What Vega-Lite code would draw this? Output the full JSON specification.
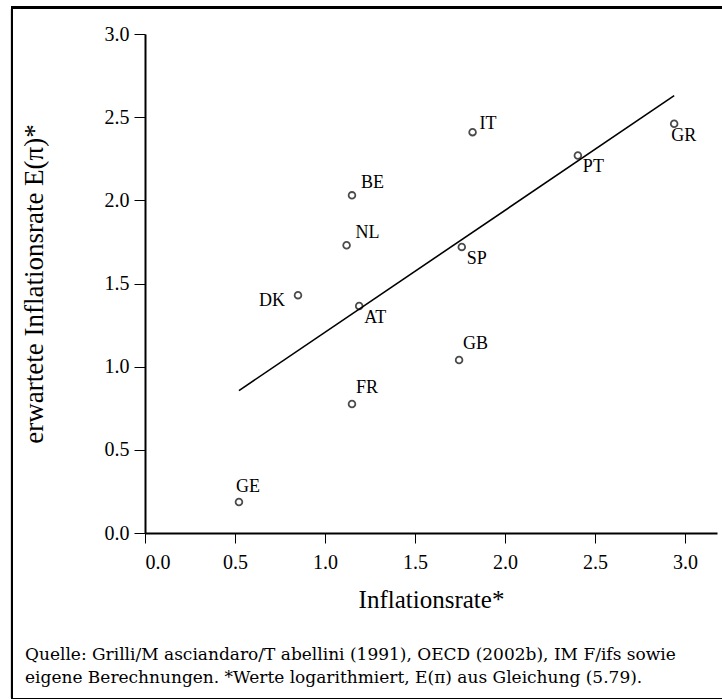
{
  "$schema": "https://vega.github.io/schema/vega-lite/v6.json",
  "autosize": {"type": "none"},
  "padding": {"left": 145, "top": 34, "right": 5, "bottom": 166},
  "width": 572,
  "height": 499,
  "background": "white",
  "config": {
    "view": {"stroke": null},
    "font": "Liberation Serif",
    "axis": {
      "grid": false,
      "domainColor": "black",
      "domainWidth": 2,
      "tickColor": "black",
      "tickWidth": 1,
      "labelColor": "black",
      "titleColor": "black",
      "labelFont": "Liberation Serif",
      "titleFont": "Liberation Serif",
      "titleFontWeight": "normal",
      "labelFontSize": 20,
      "titleFontSize": 25
    }
  },
  "title": {
    "text": [
      "Quelle: Grilli/M asciandaro/T abellini (1991), OECD (2002b), IM F/ifs sowie",
      "eigene Berechnungen. *Werte logarithmiert, E(π) aus Gleichung (5.79)."
    ],
    "orient": "bottom",
    "anchor": "start",
    "frame": "group",
    "dx": -120,
    "offset": -53,
    "font": "DejaVu Serif",
    "fontSize": 17,
    "fontWeight": "normal",
    "lineHeight": 23,
    "color": "black"
  },
  "data": {
    "values": [
      {"land": "GE", "inflation": 0.522, "erwartet": 0.186},
      {"land": "DK", "inflation": 0.85, "erwartet": 1.43},
      {"land": "AT", "inflation": 1.19, "erwartet": 1.365},
      {"land": "NL", "inflation": 1.12, "erwartet": 1.73},
      {"land": "BE", "inflation": 1.15, "erwartet": 2.03},
      {"land": "FR", "inflation": 1.15, "erwartet": 0.776},
      {"land": "IT", "inflation": 1.82, "erwartet": 2.41},
      {"land": "SP", "inflation": 1.76, "erwartet": 1.72},
      {"land": "GB", "inflation": 1.745, "erwartet": 1.04},
      {"land": "PT", "inflation": 2.405, "erwartet": 2.27},
      {"land": "GR", "inflation": 2.94, "erwartet": 2.46}
    ]
  },
  "encoding": {
    "x": {
      "field": "inflation",
      "type": "quantitative",
      "scale": {"domain": [0, 3.178], "nice": false, "zero": false},
      "axis": {
        "title": "Inflationsrate*",
        "values": [0, 0.5, 1, 1.5, 2, 2.5, 3],
        "format": ".1f",
        "tickSize": 10,
        "labelPadding": 9,
        "titlePadding": 15
      }
    },
    "y": {
      "field": "erwartet",
      "type": "quantitative",
      "scale": {"domain": [0, 3], "nice": false, "zero": false},
      "axis": {
        "title": "erwartete Inflationsrate  E(π)*",
        "titleFontSize": 27,
        "values": [0, 0.5, 1, 1.5, 2, 2.5, 3],
        "format": ".1f",
        "tickSize": 11,
        "labelPadding": 5,
        "titlePadding": 56
      }
    }
  },
  "layer": [
    {
      "mark": {"type": "rect", "fill": "white", "fillOpacity": 0, "stroke": "black", "strokeWidth": 2, "clip": false},
      "encoding": {
        "x": {"datum": -0.739},
        "x2": {"datum": 3.6},
        "y": {"datum": 3.159},
        "y2": {"datum": -1.0}
      }
    },
    {
      "transform": [{"regression": "erwartet", "on": "inflation"}],
      "mark": {"type": "line", "color": "black", "strokeWidth": 1.6}
    },
    {
      "mark": {"type": "point", "shape": "circle", "filled": false, "color": "black", "size": 45, "strokeWidth": 1.8}
    },
    {
      "transform": [{"filter": {"field": "land", "oneOf": ["IT"]}}],
      "mark": {"type": "text", "align": "left", "baseline": "middle", "dx": 7, "dy": -8, "fontSize": 18, "color": "black"},
      "encoding": {"text": {"field": "land"}}
    },
    {
      "transform": [{"filter": {"field": "land", "oneOf": ["BE", "NL"]}}],
      "mark": {"type": "text", "align": "left", "baseline": "middle", "dx": 9, "dy": -12, "fontSize": 18, "color": "black"},
      "encoding": {"text": {"field": "land"}}
    },
    {
      "transform": [{"filter": {"field": "land", "oneOf": ["FR", "GB"]}}],
      "mark": {"type": "text", "align": "left", "baseline": "middle", "dx": 4, "dy": -16, "fontSize": 18, "color": "black"},
      "encoding": {"text": {"field": "land"}}
    },
    {
      "transform": [{"filter": {"field": "land", "oneOf": ["GE"]}}],
      "mark": {"type": "text", "align": "left", "baseline": "middle", "dx": -3, "dy": -15, "fontSize": 18, "color": "black"},
      "encoding": {"text": {"field": "land"}}
    },
    {
      "transform": [{"filter": {"field": "land", "oneOf": ["AT", "SP", "PT"]}}],
      "mark": {"type": "text", "align": "left", "baseline": "middle", "dx": 5, "dy": 12, "fontSize": 18, "color": "black"},
      "encoding": {"text": {"field": "land"}}
    },
    {
      "transform": [{"filter": {"field": "land", "oneOf": ["GR"]}}],
      "mark": {"type": "text", "align": "left", "baseline": "middle", "dx": -3, "dy": 12, "fontSize": 18, "color": "black"},
      "encoding": {"text": {"field": "land"}}
    },
    {
      "transform": [{"filter": {"field": "land", "oneOf": ["DK"]}}],
      "mark": {"type": "text", "align": "right", "baseline": "middle", "dx": -13, "dy": 6, "fontSize": 18, "color": "black"},
      "encoding": {"text": {"field": "land"}}
    }
  ]
}
